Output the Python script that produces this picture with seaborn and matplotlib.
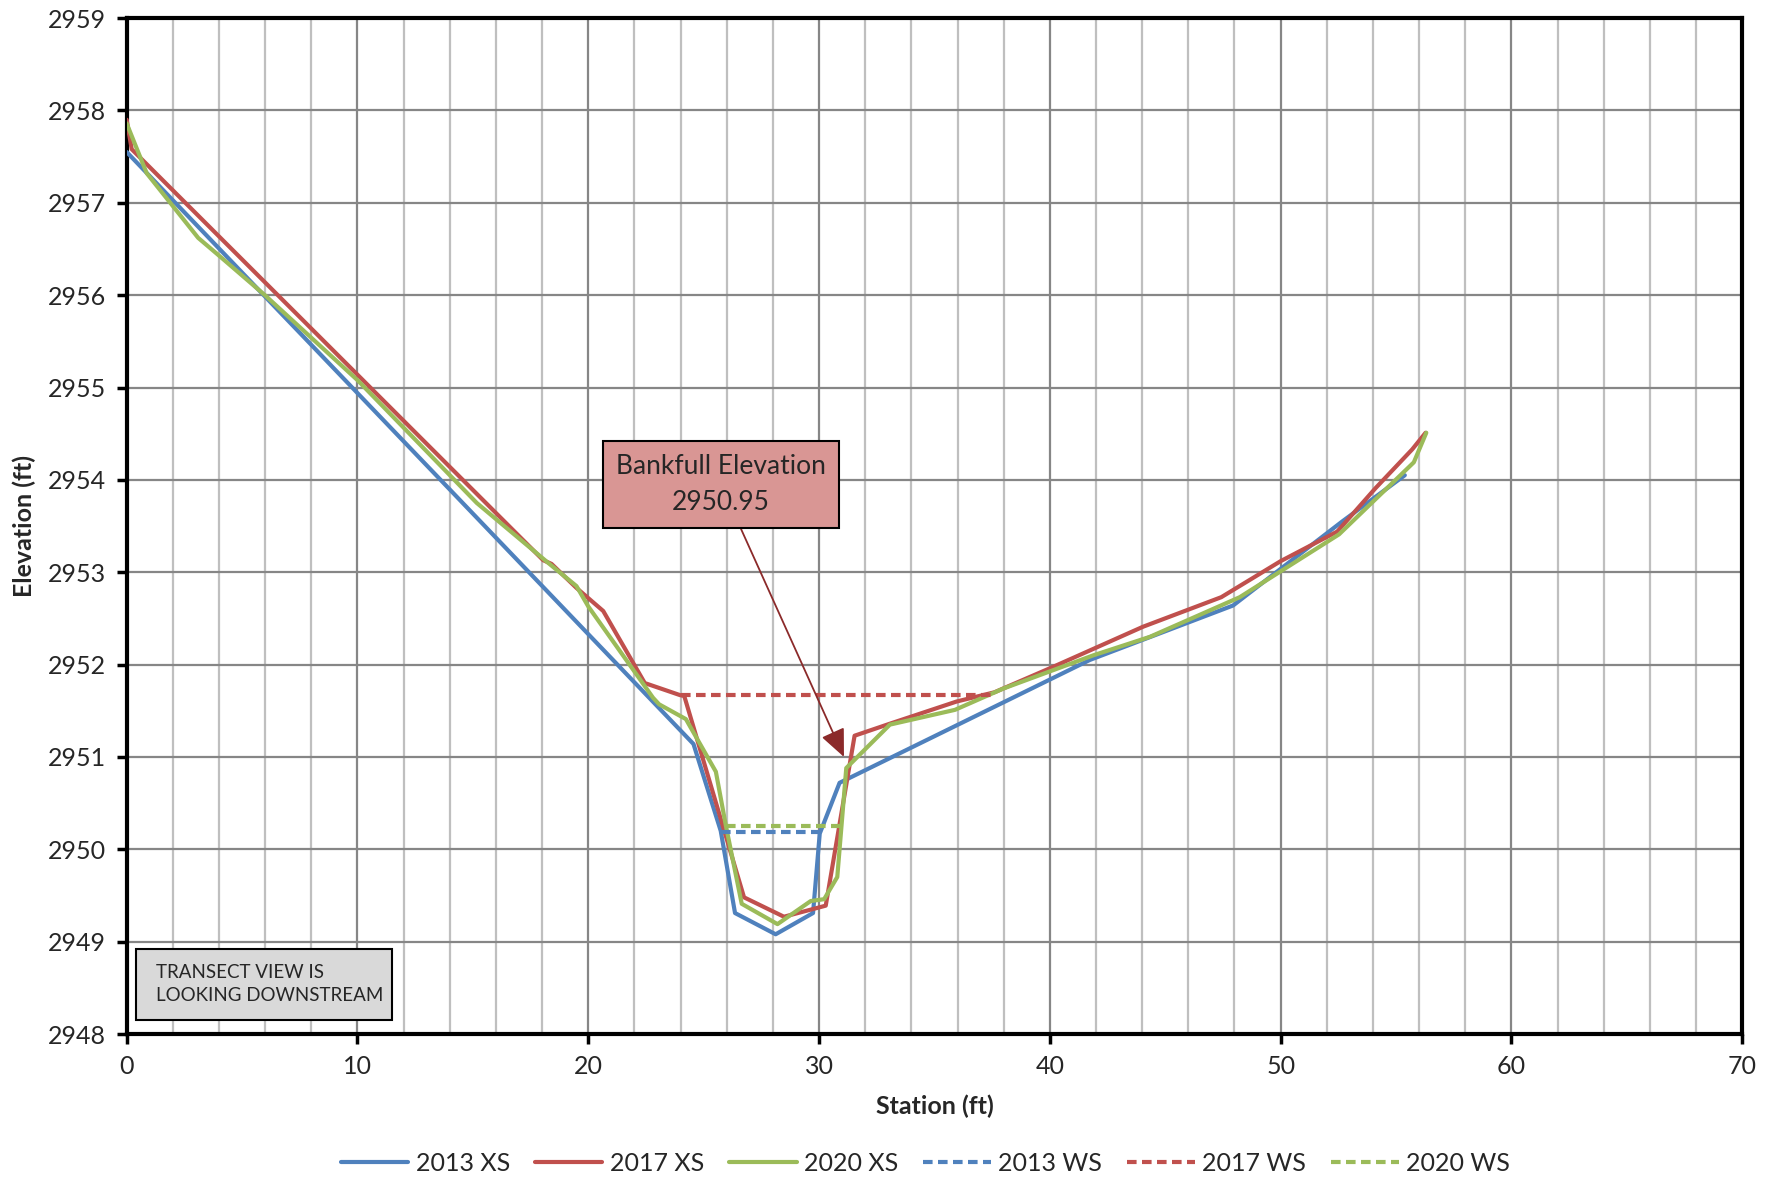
import matplotlib
matplotlib.use('Agg')
import matplotlib.pyplot as plt
import seaborn as sns
from matplotlib.patches import Rectangle
from matplotlib.ticker import MultipleLocator

# Cross-section survey data (station ft, elevation ft)
sta_2013 = [0, 24.56, 25.74, 26.36, 28.12, 29.74, 30.03, 30.89, 41.73, 47.94, 52.67, 55.38]
elev_2013 = [2957.55, 2951.14, 2950.20, 2949.31, 2949.08, 2949.31, 2950.17, 2950.72,
             2952.05, 2952.64, 2953.55, 2954.05]

sta_2017 = [0, 0.22, 18.05, 18.41, 19.49, 20.65, 22.45, 23.97, 24.16, 26.75, 28.48, 30.29,
            31.54, 33.07, 35.96, 37.6, 40.0, 44.04, 47.43, 50.0, 52.45, 54.11, 55.70, 56.28]
elev_2017 = [2957.90, 2957.58, 2953.13, 2953.09, 2952.83, 2952.58, 2951.80, 2951.67, 2951.66,
             2949.48, 2949.27, 2949.39, 2951.23, 2951.36, 2951.60, 2951.70, 2951.96, 2952.41,
             2952.73, 2953.12, 2953.44, 2953.91, 2954.33, 2954.51]

sta_2020 = [0, 0.87, 3.10, 4.04, 5.99, 10.0, 15.17, 18.27, 19.49, 20.0, 22.81, 23.07, 24.23,
            25.53, 25.96, 26.65, 28.20, 29.64, 30.22, 30.79, 31.18, 33.07, 35.89, 37.98,
            41.88, 44.33, 48.23, 50.0, 52.53, 55.77, 56.31]
elev_2020 = [2957.86, 2957.32, 2956.62, 2956.42, 2956.00, 2955.08, 2953.75, 2953.10, 2952.85,
             2952.63, 2951.64, 2951.57, 2951.41, 2950.84, 2950.26, 2949.41, 2949.19, 2949.44,
             2949.46, 2949.70, 2950.88, 2951.35, 2951.51, 2951.74, 2952.10, 2952.30, 2952.73,
             2953.01, 2953.41, 2954.19, 2954.51]

# Water surface (start station, end station, elevation)
ws_2013 = [25.74, 30.14, 2950.19]
ws_2017 = [24.0, 37.6, 2951.67]
ws_2020 = [25.96, 31.01, 2950.25]

bankfull = 2950.95

BLUE, RED, GREEN = '#4F81BD', '#C0504D', '#9BBB59'

sns.set_theme(style='white')
plt.rcParams['font.family'] = ['Lato', 'DejaVu Sans']

fig = plt.figure(figsize=(17.76, 11.8), dpi=100)
ax = fig.add_axes([0.0713, 0.1237, 0.9097, 0.861])

lw = 3.0
dash = (0, (2.3, 1.3))
sns.lineplot(x=sta_2013, y=elev_2013, sort=False, estimator=None, color=BLUE, lw=lw,
             label='2013 XS', ax=ax, zorder=3)
sns.lineplot(x=sta_2017, y=elev_2017, sort=False, estimator=None, color=RED, lw=lw,
             label='2017 XS', ax=ax, zorder=3)
sns.lineplot(x=sta_2020, y=elev_2020, sort=False, estimator=None, color=GREEN, lw=lw,
             label='2020 XS', ax=ax, zorder=3)
for ws, c, lab in [(ws_2013, BLUE, '2013 WS'), (ws_2017, RED, '2017 WS'), (ws_2020, GREEN, '2020 WS')]:
    sns.lineplot(x=ws[:2], y=[ws[2], ws[2]], sort=False, estimator=None, color=c, lw=lw,
                 linestyle=dash, label=lab, ax=ax, zorder=3)

ax.set_xlim(0, 70)
ax.set_ylim(2948, 2959)
ax.xaxis.set_major_locator(MultipleLocator(10))
ax.xaxis.set_minor_locator(MultipleLocator(2))
ax.yaxis.set_major_locator(MultipleLocator(1))

ax.grid(which='minor', axis='x', color='#BFBFBF', lw=1.6, zorder=0)
ax.grid(which='major', axis='x', color='#868686', lw=1.6, zorder=0)
ax.grid(which='major', axis='y', color='#868686', lw=1.6, zorder=0)
ax.set_axisbelow(True)

for s in ax.spines.values():
    s.set_color('black')
    s.set_linewidth(3)
ax.tick_params(which='major', direction='out', length=7, width=2.5, color='black',
               labelsize=18, pad=8, bottom=True, left=True)
ax.tick_params(which='minor', length=0)

ax.set_xlabel('Station (ft)', fontsize=18, fontweight='bold', labelpad=12)
ax.set_ylabel('Elevation (ft)', fontsize=18, fontweight='bold', labelpad=8)

# Bankfull callout
ax.annotate(f'Bankfull Elevation\n{bankfull:.2f}', xy=(31.08, 2951.0), xytext=(25.75, 2953.95),
            ha='center', va='center', fontsize=19, linespacing=1.55,
            bbox=dict(boxstyle='square,pad=0.5', fc='#D99694', ec='black', lw=1.5),
            arrowprops=dict(arrowstyle='-|>,head_length=0.9,head_width=0.4', color='#8B2A2A',
                            lw=1.3, shrinkA=0, shrinkB=0), zorder=5)

# Transect note
ax.add_patch(Rectangle((0.39, 2948.155), 11.1, 0.765, fc='#D9D9D9', ec='black', lw=1.5, zorder=4))
ax.text(1.29, 2948.54, 'TRANSECT VIEW IS\nLOOKING DOWNSTREAM', fontsize=13.5, va='center',
        ha='left', linespacing=1.45, zorder=5)

ax.legend(loc='center', bbox_to_anchor=(0.521, 0.0144), bbox_transform=fig.transFigure,
          ncol=6, frameon=False, fontsize=18, handlelength=2.7, columnspacing=1.0,
          handletextpad=0.3)

fig.savefig('out.png', dpi=100)
